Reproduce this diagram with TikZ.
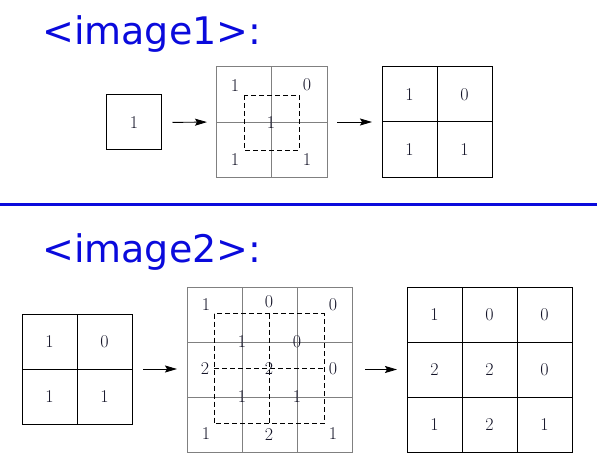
\documentclass[tikz,border=0pt]{standalone}
\usepackage{fontspec}
\newfontfamily\titlefont{DejaVu Sans}
\usetikzlibrary{arrows.meta}
\definecolor{ttl}{RGB}{10,10,220}
\definecolor{gridgray}{RGB}{128,128,128}
\begin{document}
\begin{tikzpicture}[x=1pt,y=-1pt,
  title/.style={font=\titlefont\fontsize{38}{38}\selectfont, text=ttl, anchor=base west, inner sep=0},
  num/.style={font=\fontsize{18}{18}\selectfont, text={rgb,255:red,20;green,20;blue,40}, inner sep=0},
  blackbox/.style={draw=black, line width=1pt, inner sep=0, outer sep=0},
  graybox/.style={draw=gridgray, line width=0.9pt, inner sep=0, outer sep=0},
  inblack/.style={draw=black, line width=1pt},
  ingray/.style={draw=gridgray, line width=0.9pt},
  dsh/.style={line width=0.9pt, dash pattern=on 5pt off 3pt},
  conn/.style={-{Stealth[length=12pt,width=7pt,inset=2pt]}, line width=0.9pt}]
\useasboundingbox (0,0) rectangle (597,468);

% ---------- titles and separator ----------
\node[title] (t1) at (42,45) {<image1>:};
\node[title] (t2) at (42,262) {<image2>:};
\draw[ttl, line width=3pt] (0,204) -- (597,204);

% ---------- image 1 ----------
\node[blackbox, minimum size=55pt] (a1) at (134,122.5) {};
\node[num] (a1c) at (134,123) {1};

\node[graybox, minimum size=111pt] (b1) at (271.5,122) {};
\draw[ingray] (b1.north) -- (b1.south);
\draw[ingray] (b1.west) -- (b1.east);
\draw[dsh] (244,95) rectangle (299,150);
\node[num] (b1a) at (235,86) {1};
\node[num] (b1b) at (307,85) {0};
\node[num] (b1c) at (271,123) {1};
\node[num] (b1d) at (235,160) {1};
\node[num] (b1e) at (307,160) {1};

\node[blackbox, minimum size=110pt] (c1) at (437,122) {};
\draw[inblack] (c1.north) -- (c1.south);
\draw[inblack] (c1.west) -- (c1.east);
\node[num] (c1a) at (409.5,95) {1};
\node[num] (c1b) at (464.5,95) {0};
\node[num] (c1c) at (409.5,150) {1};
\node[num] (c1d) at (464.5,150) {1};

\draw[conn, shorten <=11pt, shorten >=9pt] (a1.east) -- (b1.west);
\draw[conn, shorten <=10pt, shorten >=10pt] (b1.east) -- (c1.west);

% ---------- image 2 ----------
\node[blackbox, minimum size=110pt] (a2) at (77,369) {};
\draw[inblack] (a2.north) -- (a2.south);
\draw[inblack] (a2.west) -- (a2.east);
\node[num] (a2a) at (49.5,341.5) {1};
\node[num] (a2b) at (104.5,341.5) {0};
\node[num] (a2c) at (49.5,396.5) {1};
\node[num] (a2d) at (104.5,396.5) {1};

\node[graybox, minimum size=165pt] (b2) at (269.5,369.5) {};
\draw[ingray] (242,287) -- (242,452);
\draw[ingray] (297,287) -- (297,452);
\draw[ingray] (187,342) -- (352,342);
\draw[ingray] (187,397) -- (352,397);
\draw[dsh] (214,313.5) rectangle (324,423.5);
\draw[dsh] (269,313.5) -- (269,423.5);
\draw[dsh] (214,368.5) -- (324,368.5);
\node[num] (n11) at (206,305) {1};
\node[num] (n12) at (269,302) {0};
\node[num] (n13) at (333,305) {0};
\node[num] (n21) at (242,342) {1};
\node[num] (n22) at (297,342) {0};
\node[num] (n31) at (205,369) {2};
\node[num] (n32) at (269,369) {2};
\node[num] (n33) at (333,369) {0};
\node[num] (n41) at (242,397) {1};
\node[num] (n42) at (297,397) {1};
\node[num] (n51) at (206,434) {1};
\node[num] (n52) at (269,435) {2};
\node[num] (n53) at (333,434) {1};

\node[blackbox, minimum size=165pt] (c2) at (489.5,369.5) {};
\draw[inblack] (462,287) -- (462,452);
\draw[inblack] (517,287) -- (517,452);
\draw[inblack] (407,342) -- (572,342);
\draw[inblack] (407,397) -- (572,397);
\node[num] (m11) at (434.5,314.5) {1};
\node[num] (m12) at (489.5,314.5) {0};
\node[num] (m13) at (544.5,314.5) {0};
\node[num] (m21) at (434.5,369.5) {2};
\node[num] (m22) at (489.5,369.5) {2};
\node[num] (m23) at (544.5,369.5) {0};
\node[num] (m31) at (434.5,424.5) {1};
\node[num] (m32) at (489.5,424.5) {2};
\node[num] (m33) at (544.5,424.5) {1};

\draw[conn, shorten <=11pt, shorten >=10pt] (a2.east) -- (a2.east -| b2.west);
\draw[conn, shorten <=13pt, shorten >=10pt] (b2.east) -- (c2.west);
\end{tikzpicture}
\end{document}
